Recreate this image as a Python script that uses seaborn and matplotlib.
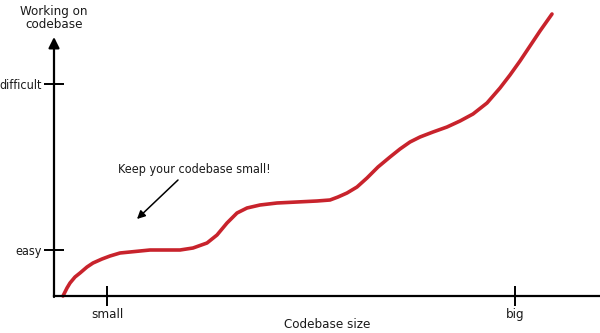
import pandas as pd
import matplotlib
matplotlib.use("Agg")
import matplotlib.pyplot as plt
import seaborn as sns

# codebase size vs. effort of working on it (arbitrary units)
codebase_size = [9, 13, 16, 21, 26, 33, 39, 48, 56, 66, 76, 86, 96, 109, 126,
                 139, 153, 163, 173, 183, 193, 206, 223, 243, 263, 276, 284,
                 293, 303, 313, 324, 336, 346, 356, 366, 379, 393, 406, 419,
                 433, 446, 456, 466, 476, 486, 498]
effort = [0, 8, 13, 19, 23, 29, 33, 37, 40, 43, 44, 45, 46, 46, 46,
          48, 53, 61, 73, 83, 88, 91, 93, 94, 95, 96, 99,
          103, 109, 118, 129, 139, 147, 154, 159, 164, 169, 175, 182,
          193, 208, 221, 235, 250, 265, 282]

y_ticks = [46, 212]
y_labels = ["easy", "difficult"]
x_ticks = [53, 461]
x_labels = ["small", "big"]

df = pd.DataFrame({"size": codebase_size, "effort": effort})

sns.set_style("white")
plt.rcParams["font.family"] = ["DejaVu Sans"]
plt.rcParams["font.stretch"] = "condensed"
plt.rcParams["text.color"] = "#1a1a1a"

fig = plt.figure(figsize=(6, 3.33), dpi=100)
ax = fig.add_axes([54 / 600, 37 / 333, 546 / 600, 282 / 333])

sns.lineplot(data=df, x="size", y="effort", ax=ax, color="#c8232c",
             linewidth=2.6, solid_capstyle="round", solid_joinstyle="round",
             clip_on=False)

ax.set_xlim(0, 546)
ax.set_ylim(0, 282)

for side in ["top", "right", "left"]:
    ax.spines[side].set_visible(False)
ax.spines["bottom"].set_linewidth(1.6)
ax.spines["bottom"].set_color("black")

# y axis with arrow head
ax.annotate("", xy=(0, 259), xytext=(0, -1), xycoords="data",
            arrowprops=dict(arrowstyle="-|>", lw=1.6, color="black",
                            mutation_scale=16, shrinkA=0, shrinkB=0),
            annotation_clip=False)

ax.set_yticks(y_ticks)
ax.set_yticklabels(y_labels)
ax.set_xticks(x_ticks)
ax.set_xticklabels(x_labels)
ax.tick_params(axis="both", direction="inout", length=15, width=1.4,
               color="black", labelsize=9.5, labelcolor="#1a1a1a")
ax.tick_params(axis="y", pad=1, left=True, labelsize=9)
ax.tick_params(axis="x", pad=1, bottom=True)

ax.set_xlabel("Codebase size", fontsize=9.5, labelpad=-2, color="#1a1a1a")
ax.set_ylabel("")
fig.text(54 / 600, 1 - 18 / 333, "Working on\ncodebase", ha="center",
         va="center", fontsize=9.5, linespacing=1.1)

ax.text(140, 126, "Keep your codebase small!", ha="center", va="center",
        fontsize=9)
ax.annotate("", xy=(83, 77), xytext=(124, 116),
            arrowprops=dict(arrowstyle="-|>", lw=1.1, color="black",
                            mutation_scale=12, shrinkA=0, shrinkB=0))

fig.savefig("out.png", dpi=100)
